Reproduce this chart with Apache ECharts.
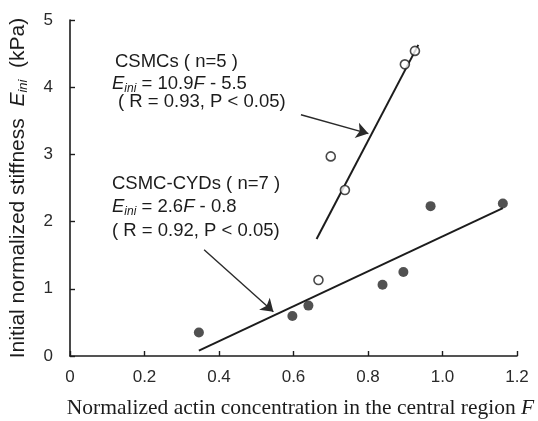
<!DOCTYPE html>
<html>
<head>
<meta charset="utf-8">
<script src="https://cdn.jsdelivr.net/npm/echarts@6/dist/echarts.min.js"></script>
<style>
html,body{margin:0;padding:0;background:#fff;}
#c{width:538px;height:421px;}
</style>
</head>
<body>
<div id="c"></div>
<script>
// ---- data ----
var xTicks = [0, 0.2, 0.4, 0.6, 0.8, 1.0, 1.2];
var yTicks = [0, 1, 2, 3, 4, 5];

var csmcF = [0.667, 0.700, 0.738, 0.899, 0.926];
var csmcE = [1.13, 2.97, 2.47, 4.34, 4.54];

var cydF = [0.346, 0.597, 0.640, 0.839, 0.895, 0.968, 1.162];
var cydE = [0.35, 0.595, 0.75, 1.06, 1.25, 2.23, 2.27];

// regression line end points (as drawn)
var csmcFitF = [0.662, 0.935];
var csmcFitE = [1.74, 4.63];
var cydFitF = [0.346, 1.162];
var cydFitE = [0.08, 2.20];

// arrows: [fromF, fromE, toF, toE]
var csmcArrow = [0.62, 3.59, 0.801, 3.31];
var cydArrow = [0.36, 1.58, 0.546, 0.66];

function zip(a, b) { return a.map(function (v, i) { return [v, b[i]]; }); }

var ink = '#1c1c1c';
var sans = 'Liberation Sans, Arial, Helvetica, sans-serif';
var serif = 'Liberation Serif, Times New Roman, serif';

var richE = {
  e: { fontStyle: 'italic', fontSize: 18.5, fontFamily: sans, color: ink },
  s: { fontStyle: 'italic', fontSize: 12, fontFamily: sans, color: ink, padding: [9, 0, 0, 0] },
  n: { fontSize: 18.5, fontFamily: sans, color: ink }
};

function annot(x, y, text) {
  return {
    type: 'text', x: x, y: y,
    style: {
      text: text, rich: richE,
      font: '18.5px ' + sans, fill: ink,
      align: 'left', verticalAlign: 'middle'
    }
  };
}

var chart = echarts.init(document.getElementById('c'), null, { renderer: 'canvas' });
chart.setOption({
  backgroundColor: '#fff',
  animation: false,
  grid: { left: 70, right: 21, top: 20, bottom: 65, containLabel: false, outerBoundsMode: 'none' },
  xAxis: {
    type: 'value', min: xTicks[0], max: xTicks[xTicks.length - 1], interval: 0.2,
    axisLine: { show: true, onZero: false, lineStyle: { color: ink, width: 1.6 } },
    axisTick: { show: true, inside: true, length: 5, lineStyle: { color: ink, width: 1.4 } },
    splitLine: { show: false },
    axisLabel: {
      margin: 13, fontSize: 17, fontFamily: sans, color: '#2a2a2a',
      formatter: function (v) { return v === 0 ? '0' : v.toFixed(1); }
    },
    name: 'Normalized actin concentration in the central region {i|F}',
    nameLocation: 'middle', nameGap: 41,
    nameTextStyle: {
      fontFamily: serif, fontSize: 21.5, color: ink, padding: [0, 0, 0, 14],
      rich: { i: { fontFamily: serif, fontSize: 21.5, fontStyle: 'italic', color: ink } }
    }
  },
  yAxis: {
    type: 'value', min: yTicks[0], max: yTicks[yTicks.length - 1], interval: 1,
    axisLine: { show: true, onZero: false, lineStyle: { color: ink, width: 1.6 } },
    axisTick: { show: true, inside: true, length: 5, lineStyle: { color: ink, width: 1.4 } },
    splitLine: { show: false },
    axisLabel: { margin: 17, fontSize: 17, fontFamily: sans, color: '#2a2a2a' },
    name: 'Initial normalized stiffness  {e|E}{s|ini}  (kPa)',
    nameLocation: 'middle', nameGap: 40,
    nameTextStyle: {
      fontFamily: sans, fontSize: 21, color: ink,
      rich: {
        e: { fontFamily: sans, fontSize: 21, fontStyle: 'italic', color: ink },
        s: { fontFamily: sans, fontSize: 13, fontStyle: 'italic', color: ink, padding: [10, 0, 0, 0] }
      }
    }
  },
  series: [
    {
      type: 'line', data: zip(csmcFitF, csmcFitE), symbol: 'none', silent: true,
      lineStyle: { color: ink, width: 2 }, z: 2,
      markLine: {
        silent: true, symbol: ['none', 'arrow'], symbolSize: 12,
        label: { show: false },
        emphasis: { disabled: true },
        itemStyle: { color: '#2a2a2a' },
        lineStyle: { color: '#2a2a2a', width: 1.4, type: 'solid' },
        data: [
          [{ coord: [csmcArrow[0], csmcArrow[1]] }, { coord: [csmcArrow[2], csmcArrow[3]] }],
          [{ coord: [cydArrow[0], cydArrow[1]] }, { coord: [cydArrow[2], cydArrow[3]] }]
        ]
      }
    },
    {
      type: 'line', data: zip(cydFitF, cydFitE), symbol: 'none', silent: true,
      lineStyle: { color: ink, width: 2 }, z: 2
    },
    {
      type: 'scatter', data: zip(csmcF, csmcE), symbol: 'circle', symbolSize: 9,
      itemStyle: { color: '#fff', borderColor: ink, borderWidth: 1.6 }, z: 3
    },
    {
      type: 'scatter', data: zip(cydF, cydE), symbol: 'circle', symbolSize: 10,
      itemStyle: { color: '#262626' }, z: 3
    }
  ],
  graphic: [
    annot(115, 62, '{n|CSMCs ( n=5 )}'),
    annot(112, 84, '{e|E}{s|ini}{n| = 10.9}{e|F}{n| - 5.5}'),
    annot(118, 102, '{n|( R = 0.93, P < 0.05)}'),
    annot(112, 184, '{n|CSMC-CYDs ( n=7 )}'),
    annot(112, 207, '{e|E}{s|ini}{n| = 2.6}{e|F}{n| - 0.8}'),
    annot(112, 231, '{n|( R = 0.92, P < 0.05)}')
  ]
});
</script>
</body>
</html>
